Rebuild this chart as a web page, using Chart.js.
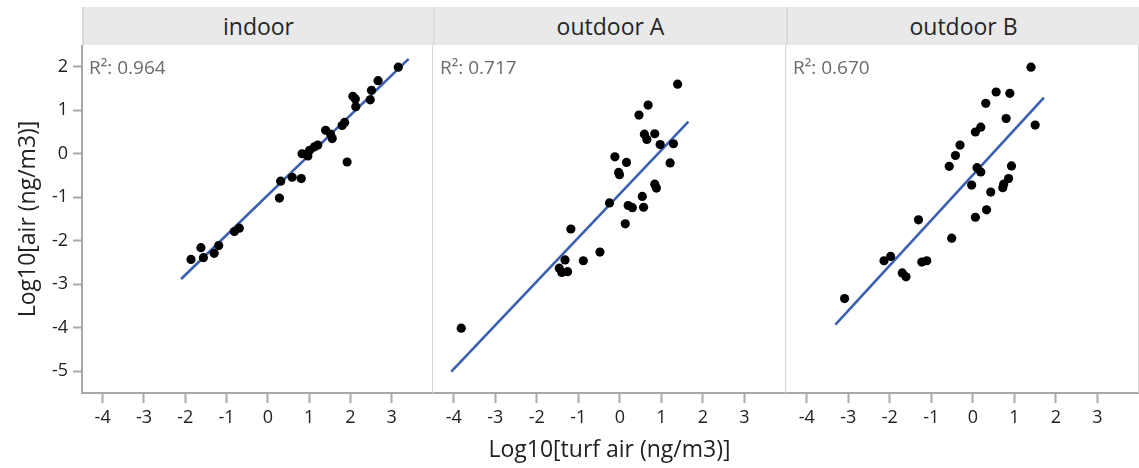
<!DOCTYPE html>
<html lang="en">
<head>
  <meta charset="UTF-8" />
  <title>Log10 air vs turf air</title>
  <script src="https://cdn.jsdelivr.net/npm/chart.js"></script>
  <style>
    body { margin: 0; background: #fff; font-family: 'Open Sans', sans-serif; }
    #wrap { position: relative; width: 1139px; height: 468px; overflow: hidden; }
    .strip {
      position: absolute; top: 7px; height: 38px; line-height: 38px;
      background: #e9e9e9; color: #262626; font-size: 23px; text-align: center;
      box-sizing: border-box; border-left: 2px solid #dadada;
    }
    canvas { position: absolute; top: 45px; }
  </style>
</head>
<body>

<div id="wrap">
  <div class="strip" style="left:82px;width:351px">indoor</div>
  <div class="strip" style="left:433px;width:353px">outdoor A</div>
  <div class="strip" style="left:786px;width:353px">outdoor B</div>
  <canvas id="p0" width="433" height="423" style="left:0"></canvas>
  <canvas id="p1" width="353" height="423" style="left:433px"></canvas>
  <canvas id="p2" width="353" height="423" style="left:786px"></canvas>
</div>

<script>
  // values (log10 turf air vs log10 air)
  const indoorX = [-1.86, -1.62, -1.56, -1.30, -1.19, -0.81, -0.69, 0.28, 0.31, 0.59, 0.81, 0.83, 0.97, 1.01, 1.13,
                   1.21, 1.40, 1.52, 1.56, 1.80, 1.86, 1.92, 2.06, 2.12, 2.13, 2.48, 2.51, 2.67, 3.16];
  const indoorY = [-2.43, -2.16, -2.39, -2.29, -2.11, -1.79, -1.71, -1.02, -0.63, -0.54, -0.57, 0.00, -0.05, 0.08, 0.16,
                   0.20, 0.54, 0.45, 0.35, 0.65, 0.72, -0.19, 1.32, 1.26, 1.08, 1.24, 1.46, 1.68, 1.99];
  const indoorFitX = [-2.10, 3.41];
  const indoorFitY = [-2.88, 2.18];

  const outdoorAX = [-3.82, -1.46, -1.40, -1.32, -1.26, -1.18, -0.88, -0.48, -0.25, -0.12, -0.03, -0.01, 0.16, 0.13, 0.20,
                     0.30, 0.46, 0.68, 0.54, 0.57, 0.59, 0.65, 0.84, 0.84, 0.88, 0.97, 1.21, 1.29, 1.39];
  const outdoorAY = [-4.01, -2.63, -2.73, -2.44, -2.71, -1.73, -2.46, -2.26, -1.13, -0.07, -0.43, -0.48, -0.20, -1.61, -1.19,
                     -1.24, 0.89, 1.12, -0.98, -1.23, 0.45, 0.33, 0.46, -0.70, -0.79, 0.21, -0.21, 0.23, 1.60];
  const outdoorAFitX = [-4.06, 1.65];
  const outdoorAFitY = [-5.01, 0.74];

  const outdoorBX = [-3.09, -2.14, -1.98, -1.70, -1.61, -1.31, -1.23, -1.11, -0.57, -0.51, -0.42, -0.31, -0.03, 0.06, 0.06,
                     0.10, 0.19, 0.19, 0.31, 0.33, 0.43, 0.56, 0.72, 0.74, 0.80, 0.86, 0.89, 0.93, 1.40, 1.50];
  const outdoorBY = [-3.33, -2.46, -2.36, -2.74, -2.83, -1.52, -2.49, -2.46, -0.29, -1.94, -0.04, 0.20, -0.72, -1.46, 0.50,
                     -0.32, 0.61, -0.42, 1.16, -1.29, -0.88, 1.42, -0.78, -0.70, 0.81, -0.57, 1.39, -0.28, 1.99, 0.66];
  const outdoorBFitX = [-3.31, 1.71];
  const outdoorBFitY = [-3.93, 1.29];

  const r2Labels = ['R²: 0.964', 'R²: 0.717', 'R²: 0.670'];
  const xTickLabels = [-4, -3, -2, -1, 0, 1, 2, 3];
  const yTickLabels = [-5, -4, -3, -2, -1, 0, 1, 2];

  const axisGrey = '#a9a9a9';
  const textCol = '#222';
  const fontFam = "'Open Sans', sans-serif";

  const pairs = (xs, ys) => xs.map((x, i) => ({ x: x, y: ys[i] }));
  const isMajor = (v, list) => list.includes(v);

  // short minor ticks, light frame on the right, R² text
  const panelDeco = {
    id: 'panelDeco',
    afterDraw(chart, args, opts) {
      const { ctx, chartArea: a, scales } = chart;
      ctx.save();
      ctx.strokeStyle = '#d6d6d6';
      ctx.lineWidth = 1;
      ctx.beginPath();
      ctx.moveTo(a.right - 0.5, a.top);
      ctx.lineTo(a.right - 0.5, a.bottom);
      ctx.stroke();

      ctx.strokeStyle = axisGrey;
      ctx.lineWidth = 2;
      scales.x.ticks.forEach(t => {
        if (isMajor(t.value, xTickLabels)) return;
        const px = Math.round(scales.x.getPixelForValue(t.value));
        ctx.beginPath();
        ctx.moveTo(px, a.bottom);
        ctx.lineTo(px, a.bottom + 6);
        ctx.stroke();
      });
      if (scales.y.options.display) {
        scales.y.ticks.forEach(t => {
          if (isMajor(t.value, yTickLabels)) return;
          const py = Math.round(scales.y.getPixelForValue(t.value));
          ctx.beginPath();
          ctx.moveTo(a.left - 5, py);
          ctx.lineTo(a.left, py);
          ctx.stroke();
        });
      }

      ctx.fillStyle = '#6b6b6b';
      ctx.font = '19px ' + fontFam;
      ctx.textBaseline = 'middle';
      ctx.fillText(opts.label, a.left + 7, a.top + 24);
      ctx.restore();
    }
  };

  function makePanel(id, xs, ys, fitX, fitY, label, showY, showXTitle) {
    return new Chart(document.getElementById(id), {
      type: 'scatter',
      data: {
        datasets: [
          {
            data: pairs(xs, ys),
            backgroundColor: '#000',
            borderWidth: 0,
            pointRadius: 4.6,
            order: 1
          },
          {
            type: 'line',
            data: pairs(fitX, fitY),
            borderColor: '#3b5fb2',
            borderWidth: 2.6,
            pointRadius: 0,
            fill: false,
            order: 2
          }
        ]
      },
      options: {
        responsive: false,
        animation: false,
        layout: { padding: 0, autoPadding: false },
        plugins: {
          legend: { display: false },
          tooltip: { enabled: false },
          panelDeco: { label: label }
        },
        scales: {
          x: {
            type: 'linear',
            min: -4.5,
            max: 4,
            afterFit: s => {
              s.height = 75;
              s.paddingLeft = 0;
              s.paddingRight = 0;
            },
            border: { display: true, color: axisGrey, width: 2 },
            grid: {
              drawOnChartArea: false,
              drawTicks: true,
              tickLength: 10,
              tickWidth: 2,
              tickColor: c => isMajor(c.tick.value, xTickLabels) ? axisGrey : 'rgba(0,0,0,0)'
            },
            ticks: {
              stepSize: 0.5,
              autoSkip: false,
              maxRotation: 0,
              padding: 4,
              color: textCol,
              font: { family: fontFam, size: 18 },
              callback: v => isMajor(v, xTickLabels) ? String(v) : null
            },
            title: {
              display: showXTitle,
              text: 'Log10[turf air (ng/m3)]',
              color: textCol,
              font: { family: fontFam, size: 23 },
              padding: { top: 0, bottom: 4 }
            }
          },
          y: {
            type: 'linear',
            display: showY,
            min: -5.5,
            max: 2.5,
            afterFit: s => {
              s.width = showY ? 82 : 0;
              s.paddingTop = 0;
              s.paddingBottom = 0;
            },
            border: { display: true, color: axisGrey, width: 2 },
            grid: {
              drawOnChartArea: false,
              drawTicks: true,
              tickLength: 9,
              tickWidth: 2,
              tickColor: c => isMajor(c.tick.value, yTickLabels) ? axisGrey : 'rgba(0,0,0,0)'
            },
            ticks: {
              stepSize: 0.5,
              autoSkip: false,
              padding: 5,
              color: textCol,
              font: { family: fontFam, size: 18 },
              callback: v => isMajor(v, yTickLabels) ? String(v) : null
            },
            title: {
              display: true,
              text: 'Log10[air (ng/m3)]',
              color: textCol,
              font: { family: fontFam, size: 23 },
              padding: { top: 15, bottom: 0 }
            }
          }
        }
      },
      plugins: [panelDeco]
    });
  }

  makePanel('p0', indoorX, indoorY, indoorFitX, indoorFitY, r2Labels[0], true, false);
  makePanel('p1', outdoorAX, outdoorAY, outdoorAFitX, outdoorAFitY, r2Labels[1], false, true);
  makePanel('p2', outdoorBX, outdoorBY, outdoorBFitX, outdoorBFitY, r2Labels[2], false, false);
</script>

</body>
</html>
